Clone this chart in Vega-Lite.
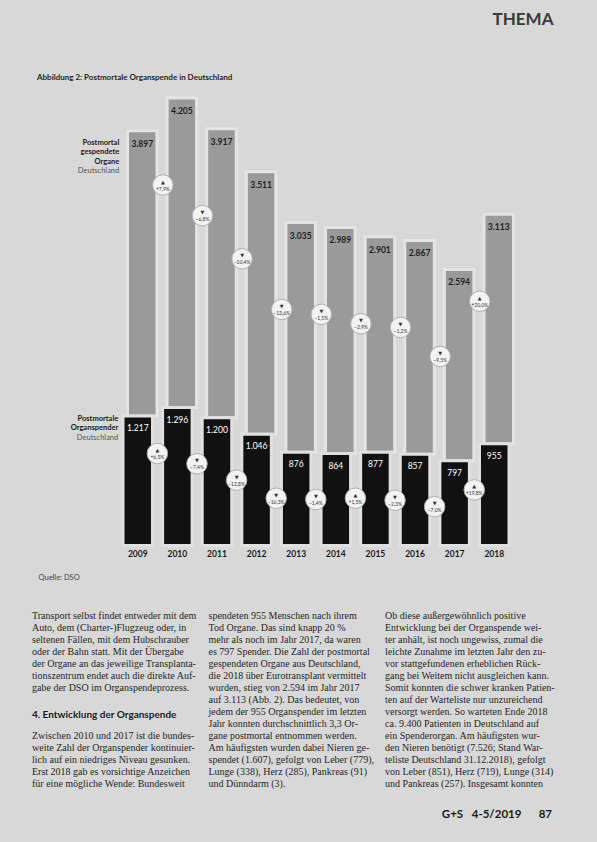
{
  "$schema": "https://vega.github.io/schema/vega-lite/v6.json",
  "width": 597,
  "height": 842,
  "autosize": {"type": "none"},
  "padding": 0,
  "background": "#d8d8d8",
  "config": {
    "view": {"stroke": null},
    "font": "Lato",
    "locale": {"number": {"decimal": ",", "thousands": ".", "grouping": [3], "currency": ["", " €"]}}
  },
  "title": {
    "text": "Abbildung 2: Postmortale Organspende in Deutschland",
    "anchor": "start",
    "frame": "group",
    "offset": -86,
    "dx": 37,
    "fontSize": 8,
    "fontWeight": "bold",
    "font": "Lato",
    "color": "#1f1f1f",
    "baseline": "middle"
  },
  "datasets": {
    "years": [
      {"year": "2009", "organs": 3897, "donors": 1217},
      {"year": "2010", "organs": 4205, "donors": 1296, "organsChange": 0.079, "donorsChange": 0.065},
      {"year": "2011", "organs": 3917, "donors": 1200, "organsChange": -0.068, "donorsChange": -0.074},
      {"year": "2012", "organs": 3511, "donors": 1046, "organsChange": -0.104, "donorsChange": -0.128},
      {"year": "2013", "organs": 3035, "donors": 876, "organsChange": -0.136, "donorsChange": -0.163},
      {"year": "2014", "organs": 2989, "donors": 864, "organsChange": -0.015, "donorsChange": -0.014},
      {"year": "2015", "organs": 2901, "donors": 877, "organsChange": -0.029, "donorsChange": 0.015},
      {"year": "2016", "organs": 2867, "donors": 857, "organsChange": -0.012, "donorsChange": -0.023},
      {"year": "2017", "organs": 2594, "donors": 797, "organsChange": -0.095, "donorsChange": -0.070},
      {"year": "2018", "organs": 3113, "donors": 955, "organsChange": 0.200, "donorsChange": 0.198}
    ],
    "body": [
      {"col": 1, "line": 0, "kind": "text", "text": "Transport selbst findet entweder mit dem"},
      {"col": 1, "line": 1, "kind": "text", "text": "Auto, dem (Charter-)Flugzeug oder, in"},
      {"col": 1, "line": 2, "kind": "text", "text": "seltenen Fällen, mit dem Hubschrauber"},
      {"col": 1, "line": 3, "kind": "text", "text": "oder der Bahn statt. Mit der Übergabe"},
      {"col": 1, "line": 4, "kind": "text", "text": "der Organe an das jeweilige Transplanta-"},
      {"col": 1, "line": 5, "kind": "text", "text": "tionszentrum endet auch die direkte Auf-"},
      {"col": 1, "line": 6, "kind": "text", "text": "gabe der DSO im Organspendeprozess."},
      {"col": 1, "line": 8, "kind": "heading", "text": "4. Entwicklung der Organspende"},
      {"col": 1, "line": 10, "kind": "text", "text": "Zwischen 2010 und 2017 ist die bundes-"},
      {"col": 1, "line": 11, "kind": "text", "text": "weite Zahl der Organspender kontinuier-"},
      {"col": 1, "line": 12, "kind": "text", "text": "lich auf ein niedriges Niveau gesunken."},
      {"col": 1, "line": 13, "kind": "text", "text": "Erst 2018 gab es vorsichtige Anzeichen"},
      {"col": 1, "line": 14, "kind": "text", "text": "für eine mögliche Wende: Bundesweit"},
      {"col": 2, "line": 0, "kind": "text", "text": "spendeten 955 Menschen nach ihrem"},
      {"col": 2, "line": 1, "kind": "text", "text": "Tod Organe. Das sind knapp 20 %"},
      {"col": 2, "line": 2, "kind": "text", "text": "mehr als noch im Jahr 2017, da waren"},
      {"col": 2, "line": 3, "kind": "text", "text": "es 797 Spender. Die Zahl der postmortal"},
      {"col": 2, "line": 4, "kind": "text", "text": "gespendeten Organe aus Deutschland,"},
      {"col": 2, "line": 5, "kind": "text", "text": "die 2018 über Eurotransplant vermittelt"},
      {"col": 2, "line": 6, "kind": "text", "text": "wurden, stieg von 2.594 im Jahr 2017"},
      {"col": 2, "line": 7, "kind": "text", "text": "auf 3.113 (Abb. 2). Das bedeutet, von"},
      {"col": 2, "line": 8, "kind": "text", "text": "jedem der 955 Organspender im letzten"},
      {"col": 2, "line": 9, "kind": "text", "text": "Jahr konnten durchschnittlich 3,3 Or-"},
      {"col": 2, "line": 10, "kind": "text", "text": "gane postmortal entnommen werden."},
      {"col": 2, "line": 11, "kind": "text", "text": "Am häufigsten wurden dabei Nieren ge-"},
      {"col": 2, "line": 12, "kind": "text", "text": "spendet (1.607), gefolgt von Leber (779),"},
      {"col": 2, "line": 13, "kind": "text", "text": "Lunge (338), Herz (285), Pankreas (91)"},
      {"col": 2, "line": 14, "kind": "text", "text": "und Dünndarm (3)."},
      {"col": 3, "line": 0, "kind": "text", "text": "\u2003Ob diese außergewöhnlich positive"},
      {"col": 3, "line": 1, "kind": "text", "text": "Entwicklung bei der Organspende wei-"},
      {"col": 3, "line": 2, "kind": "text", "text": "ter anhält, ist noch ungewiss, zumal die"},
      {"col": 3, "line": 3, "kind": "text", "text": "leichte Zunahme im letzten Jahr den zu-"},
      {"col": 3, "line": 4, "kind": "text", "text": "vor stattgefundenen erheblichen Rück-"},
      {"col": 3, "line": 5, "kind": "text", "text": "gang bei Weitem nicht ausgleichen kann."},
      {"col": 3, "line": 6, "kind": "text", "text": "Somit konnten die schwer kranken Patien-"},
      {"col": 3, "line": 7, "kind": "text", "text": "ten auf der Warteliste nur unzureichend"},
      {"col": 3, "line": 8, "kind": "text", "text": "versorgt werden. So warteten Ende 2018"},
      {"col": 3, "line": 9, "kind": "text", "text": "ca. 9.400 Patienten in Deutschland auf"},
      {"col": 3, "line": 10, "kind": "text", "text": "ein Spenderorgan. Am häufigsten wur-"},
      {"col": 3, "line": 11, "kind": "text", "text": "den Nieren benötigt (7.526; Stand War-"},
      {"col": 3, "line": 12, "kind": "text", "text": "teliste Deutschland 31.12.2018), gefolgt"},
      {"col": 3, "line": 13, "kind": "text", "text": "von Leber (851), Herz (719), Lunge (314)"},
      {"col": 3, "line": 14, "kind": "text", "text": "und Pankreas (257). Insgesamt konnten"},
      {"col": 3, "line": 17, "kind": "footer", "text": "G+S\u20034-5/2019\u2003\u200387"}
    ]
  },
  "layer": [
    {
      "data": {"name": "years"},
      "encoding": {
        "x": {
          "field": "year",
          "type": "ordinal",
          "scale": {"range": [123, 509], "paddingInner": 0.255, "paddingOuter": 0},
          "axis": {
            "orient": "bottom",
            "offset": -296.5,
            "domain": false,
            "ticks": false,
            "labelAngle": 0,
            "labelPadding": 4,
            "labelFontSize": 8.5,
            "labelFontWeight": "bold",
            "labelColor": "#1a1a1a",
            "labelFont": "Lato",
            "title": "Quelle: DSO",
            "titleX": 38,
            "titleY": 32,
            "titleAlign": "left",
            "titleAnchor": "start",
            "titleBaseline": "middle",
            "titleFontSize": 7.5,
            "titleFontWeight": "normal",
            "titleColor": "#444444",
            "titleFont": "Lato"
          }
        }
      },
      "layer": [
        {
          "mark": {"type": "bar", "xOffset": 4.5, "color": "#9a9a9a", "stroke": "#e4e4e4", "strokeWidth": 3},
          "encoding": {
            "y": {
              "field": "organs",
              "type": "quantitative",
              "scale": {"domain": [0, 4205], "range": [545.5, 98], "nice": false},
              "axis": {
                "orient": "left",
                "labels": false,
                "ticks": false,
                "domain": false,
                "grid": false,
                "title": "THEMA",
                "titleAngle": 0,
                "titleX": 492,
                "titleY": 19,
                "titleAlign": "left",
                "titleBaseline": "middle",
                "titleFontSize": 17,
                "titleFontWeight": "bold",
                "titleColor": "#3a3a3a",
                "titleFont": "Lato"
              }
            },
            "y2": {"field": "donors"}
          }
        },
        {
          "mark": {"type": "bar", "color": "#111111", "stroke": "#e0e0e0", "strokeWidth": 3},
          "encoding": {
            "y": {"field": "donors", "type": "quantitative"}
          }
        },
        {
          "mark": {"type": "text", "xOffset": 4.5, "dy": 13, "fontSize": 8.5, "fontWeight": "bold", "color": "#1e1e1e", "baseline": "middle"},
          "encoding": {
            "y": {"field": "organs", "type": "quantitative"},
            "text": {"field": "organs", "type": "quantitative", "format": ",d"}
          }
        },
        {
          "mark": {"type": "text", "dy": 12, "fontSize": 8.5, "color": "#ffffff", "baseline": "middle"},
          "encoding": {
            "y": {"field": "donors", "type": "quantitative"},
            "text": {"field": "donors", "type": "quantitative", "format": ",d"}
          }
        },
        {
          "transform": [{"filter": "datum.organsChange != null"}],
          "layer": [
            {
              "mark": {"type": "point", "shape": "circle", "filled": true, "size": 420, "xOffset": -14.5, "yOffset": 87, "fill": "#f3f3f3", "stroke": "#b0b0b0", "strokeWidth": 1, "opacity": 1},
              "encoding": {"y": {"field": "organs", "type": "quantitative"}}
            },
            {
              "mark": {"type": "text", "xOffset": -14.5, "yOffset": 87, "dy": -3.5, "fontSize": 5, "color": "#333333", "baseline": "middle", "font": "DejaVu Sans"},
              "encoding": {
                "y": {"field": "organs", "type": "quantitative"},
                "text": {"condition": {"test": "datum.organsChange > 0", "value": "▲"}, "value": "▼"}
              }
            },
            {
              "mark": {"type": "text", "xOffset": -14.5, "yOffset": 87, "dy": 3.5, "fontSize": 5, "color": "#333333", "baseline": "middle"},
              "encoding": {
                "y": {"field": "organs", "type": "quantitative"},
                "text": {"field": "organsChange", "type": "quantitative", "format": "+.1%"}
              }
            }
          ]
        },
        {
          "transform": [{"filter": "datum.donorsChange != null"}],
          "layer": [
            {
              "mark": {"type": "point", "shape": "circle", "filled": true, "size": 420, "xOffset": -20, "yOffset": 46, "fill": "#f3f3f3", "stroke": "#b0b0b0", "strokeWidth": 1, "opacity": 1},
              "encoding": {"y": {"field": "donors", "type": "quantitative"}}
            },
            {
              "mark": {"type": "text", "xOffset": -20, "yOffset": 46, "dy": -3.5, "fontSize": 5, "color": "#333333", "baseline": "middle", "font": "DejaVu Sans"},
              "encoding": {
                "y": {"field": "donors", "type": "quantitative"},
                "text": {"condition": {"test": "datum.donorsChange > 0", "value": "▲"}, "value": "▼"}
              }
            },
            {
              "mark": {"type": "text", "xOffset": -20, "yOffset": 46, "dy": 3.5, "fontSize": 5, "color": "#333333", "baseline": "middle"},
              "encoding": {
                "y": {"field": "donors", "type": "quantitative"},
                "text": {"field": "donorsChange", "type": "quantitative", "format": "+.1%"}
              }
            }
          ]
        },
        {
          "transform": [{"filter": "datum.year == '2009'"}],
          "layer": [
            {
              "mark": {"type": "text", "align": "right", "baseline": "top", "xOffset": -18.5, "dy": 8, "fontSize": 7.5, "fontWeight": "bold", "color": "#1a1a1a", "lineBreak": "|", "lineHeight": 9.5},
              "encoding": {
                "y": {"field": "organs", "type": "quantitative"},
                "text": {"value": "Postmortal|gespendete|Organe"}
              }
            },
            {
              "mark": {"type": "text", "align": "right", "baseline": "top", "xOffset": -18.5, "dy": 36.5, "fontSize": 7.5, "color": "#555555"},
              "encoding": {
                "y": {"field": "organs", "type": "quantitative"},
                "text": {"value": "Deutschland"}
              }
            },
            {
              "mark": {"type": "text", "align": "right", "baseline": "top", "xOffset": -19.5, "dy": -1, "fontSize": 7.5, "fontWeight": "bold", "color": "#1a1a1a", "lineBreak": "|", "lineHeight": 9.5},
              "encoding": {
                "y": {"field": "donors", "type": "quantitative"},
                "text": {"value": "Postmortale|Organspender"}
              }
            },
            {
              "mark": {"type": "text", "align": "right", "baseline": "top", "xOffset": -19.5, "dy": 18, "fontSize": 7.5, "color": "#555555"},
              "encoding": {
                "y": {"field": "donors", "type": "quantitative"},
                "text": {"value": "Deutschland"}
              }
            }
          ]
        }
      ]
    },
    {
      "data": {"name": "body"},
      "encoding": {
        "x": {"field": "col", "type": "quantitative", "scale": {"domain": [1, 3], "range": [32, 385]}, "axis": null},
        "y": {"field": "line", "type": "quantitative", "scale": {"domain": [0, 14], "range": [616, 784]}, "axis": null},
        "text": {"field": "text"}
      },
      "layer": [
        {
          "transform": [{"filter": "datum.kind == 'text'"}],
          "mark": {"type": "text", "align": "left", "baseline": "middle", "font": "Liberation Serif", "fontSize": 10, "color": "#262626"}
        },
        {
          "transform": [{"filter": "datum.kind == 'heading'"}],
          "mark": {"type": "text", "align": "left", "baseline": "middle", "dy": 3, "font": "Lato", "fontSize": 10, "fontWeight": "bold", "color": "#1a1a1a"}
        },
        {
          "transform": [{"filter": "datum.kind == 'footer'"}],
          "mark": {"type": "text", "align": "right", "baseline": "middle", "dx": 167, "dy": -5, "font": "Lato", "fontSize": 11.5, "fontWeight": "bold", "color": "#1a1a1a"}
        }
      ]
    }
  ],
  "resolve": {"scale": {"x": "independent", "y": "independent"}}
}
